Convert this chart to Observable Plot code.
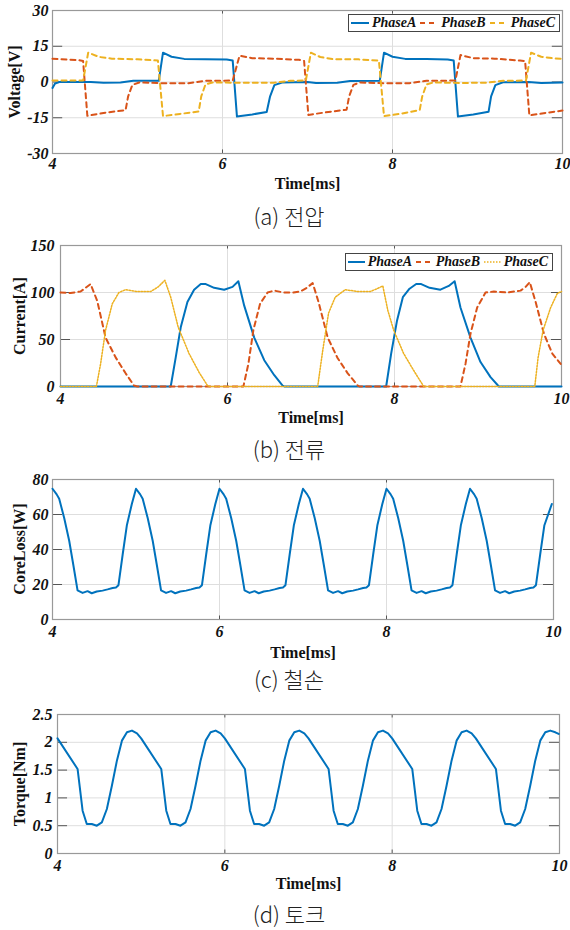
<!DOCTYPE html>
<html>
<head>
<meta charset="utf-8">
<script src="https://cdn.jsdelivr.net/npm/d3@7"></script>
<script src="https://cdn.jsdelivr.net/npm/@observablehq/plot@0.6"></script>
<style>
  html, body { margin: 0; padding: 0; background: #fff; }
  #root { position: relative; width: 570px; height: 930px; overflow: hidden; background: #fff; }
  .panel { position: absolute; left: 0; }
  .cap { position: absolute; left: 0; width: 578px; text-align: center; font-family: "Noto Sans CJK KR", sans-serif; font-weight: 300; font-size: 22px; line-height: 26px; color: #222; }
  .ytitle { position: absolute; font-family: "Liberation Serif", serif; font-weight: bold; font-size: 16px; line-height: 18px; color: #111; white-space: nowrap; transform: translate(-50%, -50%) rotate(-90deg); }
  .legend { position: absolute; background: #fff; border: 1px solid #444; display: flex; align-items: center; font-family: "Liberation Serif", serif; font-weight: bold; font-style: italic; font-size: 14px; color: #111; box-sizing: border-box; padding-left: 2px; white-space: nowrap; }
  .legend svg { display: block; margin-right: 3px; }
  .legend span { margin-right: 4px; }
</style>
</head>
<body>
<div id="root"></div>
<script>
// ---------- shared axis data ----------
const xTicks = [4, 6, 8, 10];
const seriesNames = ["PhaseA", "PhaseB", "PhaseC"];
const colors = ["#0072BD", "#D95319", "#EDB120"];

// ---------- (a) Voltage ----------
const voltTicks = [-30, -15, 0, 15, 30];
const vA_t = [4.00,4.03,4.08,4.45,4.60,4.80,4.95,5.25,5.30,5.40,5.55,5.80,6.05,6.12,6.17,6.35,6.52,6.56,6.61,6.70,7.00,7.10,7.35,7.50,7.85,7.90,8.00,8.15,8.40,8.65,8.72,8.77,8.95,9.13,9.16,9.21,9.30,9.60,9.75,10.00];
const vA_v = [-2.5,-0.6,0,0,-0.3,-0.2,0.5,0.5,12.3,10.6,9.7,9.5,9.4,9.0,-14.5,-13.6,-12.6,-6,-1.3,-0.2,0,-0.4,-0.3,0.4,0.5,12.3,10.6,9.7,9.6,9.4,9.0,-14.5,-13.6,-12.5,-6,-1.3,-0.1,0,-0.4,-0.2];
const vB_t = [4.00,4.30,4.36,4.41,4.60,4.86,4.89,4.94,5.02,5.30,5.60,5.80,6.12,6.20,6.35,6.60,6.90,6.96,7.01,7.20,7.46,7.49,7.54,7.62,7.90,8.20,8.40,8.74,8.80,8.95,9.20,9.50,9.56,9.61,9.80,10.00];
const vB_v = [9.8,9.2,8.8,-14.2,-13.0,-11.8,-6,-1.2,-0.2,-0.5,-0.5,0.5,0.6,11.0,10.0,9.8,9.3,8.8,-13.8,-12.8,-11.6,-6,-1.2,-0.2,-0.5,-0.5,0.5,0.6,11.3,10.0,9.8,9.0,8.8,-14.0,-13.0,-12.0];
const vC_t = [4.00,4.36,4.42,4.55,4.70,5.00,5.24,5.30,5.50,5.72,5.75,5.80,5.88,6.20,6.60,6.80,6.98,7.04,7.15,7.30,7.60,7.84,7.90,8.10,8.32,8.35,8.40,8.48,8.80,9.10,9.30,9.57,9.63,9.75,9.90,10.00];
const vC_v = [0.6,0.6,12.3,10.5,9.8,9.5,9.0,-14.3,-13.4,-12.4,-6,-1.0,-0.2,-0.3,-0.3,0.5,0.6,12.3,10.5,9.6,9.5,9.0,-14.3,-13.3,-11.8,-6,-1.0,-0.2,-0.4,-0.3,0.5,0.6,12.3,10.6,9.9,9.7];

// ---------- (b) Current ----------
const currTicks = [0, 50, 100, 150];
const iA_t = [4.00,5.32,5.38,5.44,5.52,5.60,5.68,5.74,5.84,5.96,6.06,6.13,6.20,6.32,6.44,6.56,6.66,6.68,7.90,7.96,8.03,8.10,8.18,8.26,8.32,8.42,8.55,8.65,8.72,8.79,8.91,9.03,9.15,9.25,10.00];
const iA_v = [0,0,31,63,90,103,109,109,105,103,106,112,86,52,28,12,1,0,0,35,70,95,104,109,109,105,103,107,112,84,52,26,10,0,0];
const iB_t = [4.00,4.12,4.24,4.30,4.36,4.44,4.54,4.66,4.78,4.88,4.92,6.19,6.25,6.31,6.39,6.48,6.56,6.67,6.79,6.87,6.95,7.02,7.09,7.20,7.32,7.44,7.56,7.58,8.79,8.85,8.91,8.99,9.09,9.19,9.35,9.51,9.57,9.62,9.69,9.79,9.89,9.99];
const iB_v = [100,99.5,101,105,109,91,52,31,14,1,0,0,24,60,88,100,102,100,100,101,105,110,90,52,30,14,1,0,0,24,56,84,100,101,100,102,106,111,90,56,35,24];
const iC_t = [4.00,4.43,4.48,4.54,4.62,4.70,4.78,4.92,5.08,5.17,5.25,5.32,5.41,5.54,5.66,5.76,5.78,7.08,7.14,7.21,7.29,7.41,7.56,7.71,7.79,7.86,7.92,7.99,8.11,8.23,8.35,9.68,9.72,9.78,9.87,9.95,10.00];
const iC_v = [0,0,24,60,88,100,103,101,101,106,113,95,63,35,15,1,0,0,38,78,95,103,101,101,104,107,81,60,35,17,0,0,31,60,84,99,101];

// ---------- (c) Core loss ----------
const coreTicks = [0, 20, 40, 60, 80];
const core_t = [4.00,4.05,4.08,4.14,4.20,4.25,4.30,4.36,4.42,4.47,4.53,4.60,4.66,4.72,4.76,4.79,4.84,4.89,4.95,
                5.00,5.05,5.08,5.14,5.20,5.25,5.30,5.36,5.42,5.47,5.53,5.60,5.66,5.72,5.76,5.79,5.84,5.89,5.95,
                6.00,6.05,6.08,6.14,6.20,6.25,6.30,6.36,6.42,6.47,6.53,6.60,6.66,6.72,6.76,6.79,6.84,6.89,6.95,
                7.00,7.05,7.08,7.14,7.20,7.25,7.30,7.36,7.42,7.47,7.53,7.60,7.66,7.72,7.76,7.79,7.84,7.89,7.95,
                8.00,8.05,8.08,8.14,8.20,8.25,8.30,8.36,8.42,8.47,8.53,8.60,8.66,8.72,8.76,8.79,8.84,8.89,8.95,
                9.00,9.05,9.08,9.14,9.20,9.25,9.30,9.36,9.42,9.47,9.53,9.60,9.66,9.72,9.76,9.79,9.84,9.89,9.98];
const core_v = [74.7,71.5,69,58,45,31,16.6,15.2,16.2,15.0,16.0,16.5,17.2,18.0,18.3,19.6,37,53.7,66,
                74.7,71.5,69,58,45,31,16.6,15.2,16.2,15.0,16.0,16.5,17.2,18.0,18.3,19.6,37,53.7,66,
                74.7,71.5,69,58,45,31,16.6,15.2,16.2,15.0,16.0,16.5,17.2,18.0,18.3,19.6,37,53.7,66,
                74.7,71.5,69,58,45,31,16.6,15.2,16.2,15.0,16.0,16.5,17.2,18.0,18.3,19.6,37,53.7,66,
                74.7,71.5,69,58,45,31,16.6,15.2,16.2,15.0,16.0,16.5,17.2,18.0,18.3,19.6,37,53.7,66,
                74.7,71.5,69,58,45,31,16.6,15.2,16.2,15.0,16.0,16.5,17.2,18.0,18.3,19.6,37,53.7,66];

// ---------- (d) Torque ----------
const torqTicks = [0, 0.5, 1, 1.5, 2, 2.5];
const torq_t = [4.00,4.24,4.30,4.35,4.41,4.47,4.53,4.59,4.65,4.71,4.77,4.83,4.89,4.95,
                5.00,5.24,5.30,5.35,5.41,5.47,5.53,5.59,5.65,5.71,5.77,5.83,5.89,5.95,
                6.00,6.24,6.30,6.35,6.41,6.47,6.53,6.59,6.65,6.71,6.77,6.83,6.89,6.95,
                7.00,7.24,7.30,7.35,7.41,7.47,7.53,7.59,7.65,7.71,7.77,7.83,7.89,7.95,
                8.00,8.24,8.30,8.35,8.41,8.47,8.53,8.59,8.65,8.71,8.77,8.83,8.89,8.95,
                9.00,9.24,9.30,9.35,9.41,9.47,9.53,9.59,9.65,9.71,9.77,9.83,9.89,9.95,9.99];
const torq_v = [2.07,1.52,0.77,0.53,0.53,0.50,0.56,0.80,1.22,1.67,2.03,2.18,2.21,2.16,
                2.07,1.52,0.77,0.53,0.53,0.50,0.56,0.80,1.22,1.67,2.03,2.18,2.21,2.16,
                2.07,1.52,0.77,0.53,0.53,0.50,0.56,0.80,1.22,1.67,2.03,2.18,2.21,2.16,
                2.07,1.52,0.77,0.53,0.53,0.50,0.56,0.80,1.22,1.67,2.03,2.18,2.21,2.16,
                2.07,1.52,0.77,0.53,0.53,0.50,0.56,0.80,1.22,1.67,2.03,2.18,2.21,2.16,
                2.07,1.52,0.77,0.53,0.53,0.50,0.56,0.80,1.22,1.67,2.03,2.18,2.21,2.18,2.15];

function rows(ts, vs, s) { return ts.map((t, i) => ({t, v: vs[i], s})); }

const root = document.getElementById("root");

function panel(cfg) {
  const [y0, y1] = cfg.yDomain;
  const dy = (y1 - y0) * 0.025;
  const dx = 6 * 0.02;
  const tickStroke = "#555";
  const marks = [
    Plot.gridX(xTicks.slice(1, -1), {stroke: "#dedede", strokeOpacity: 1, strokeWidth: 1}),
    Plot.gridY(cfg.yTicks.slice(1, -1), {stroke: "#dedede", strokeOpacity: 1, strokeWidth: 1}),
    // inward ticks
    Plot.ruleX(xTicks, {y1: y0, y2: y0 + dy, stroke: tickStroke, strokeWidth: 1}),
    Plot.ruleX(xTicks, {y1: y1, y2: y1 - dy, stroke: tickStroke, strokeWidth: 1}),
    Plot.ruleY(cfg.yTicks, {x1: 4, x2: 4 + dx, stroke: tickStroke, strokeWidth: 1}),
    Plot.ruleY(cfg.yTicks, {x1: 10, x2: 10 - dx, stroke: tickStroke, strokeWidth: 1}),
    Plot.frame({stroke: "#999", strokeWidth: 1.2}),
    ...cfg.lines.map(L => Plot.line(L.data, {x: "t", y: "v", stroke: L.color, strokeWidth: L.width, strokeDasharray: L.dash, strokeLinejoin: "round"})),
    Plot.axisX(xTicks, {tickSize: 0, tickPadding: cfg.xPad, fontSize: 16, fontWeight: "bold", fontStyle: "italic", label: null, tickFormat: d => String(d)}),
    Plot.axisY(cfg.yTicks, {tickSize: 0, tickPadding: cfg.yPad, fontSize: 16, fontWeight: "bold", fontStyle: "italic", label: null, tickFormat: d => String(d)}),
    Plot.text(["Time[ms]"], {text: d => d, frameAnchor: "bottom", textAnchor: "middle", lineAnchor: "middle", dy: cfg.tDy, fontSize: 16, fontWeight: "bold", fill: "#111"})
  ];
  const fh = cfg.frameBottom - cfg.frameTop;
  const p = Plot.plot({
    width: 570,
    height: 10 + fh + 45,
    marginTop: 10,
    marginBottom: 45,
    marginLeft: cfg.left,
    marginRight: 570 - cfg.right,
    x: {domain: [4, 10], axis: null},
    y: {domain: cfg.yDomain, axis: null},
    style: {fontFamily: "Liberation Serif, serif", color: "#111", background: "transparent", overflow: "visible"},
    marks
  });
  const d = document.createElement("div");
  d.className = "panel";
  d.style.top = (cfg.frameTop - 10) + "px";
  d.appendChild(p);
  root.appendChild(d);

  // rotated y-axis title
  const yt = document.createElement("div");
  yt.className = "ytitle";
  yt.style.left = (cfg.left + cfg.yDx) + "px";
  yt.style.top = ((cfg.frameTop + cfg.frameBottom) / 2) + "px";
  yt.textContent = cfg.yLabel;
  root.appendChild(yt);

  const c = document.createElement("div");
  c.className = "cap";
  c.style.top = (cfg.capY - 13) + "px";
  c.textContent = cfg.caption;
  root.appendChild(c);
}

function legend(box, styles) {
  const lg = document.createElement("div");
  lg.className = "legend";
  Object.assign(lg.style, {left: box.x + "px", top: box.y + "px", width: box.w + "px", height: box.h + "px"});
  seriesNames.forEach((name, i) => {
    const st = styles[i];
    const sw = document.createElementNS("http://www.w3.org/2000/svg", "svg");
    sw.setAttribute("width", 19); sw.setAttribute("height", 10);
    const ln = document.createElementNS("http://www.w3.org/2000/svg", "line");
    ln.setAttribute("x1", 0); ln.setAttribute("x2", 19); ln.setAttribute("y1", 5); ln.setAttribute("y2", 5);
    ln.setAttribute("stroke", colors[i]); ln.setAttribute("stroke-width", st.width);
    if (st.dash) ln.setAttribute("stroke-dasharray", st.dash);
    sw.appendChild(ln);
    lg.appendChild(sw);
    const s = document.createElement("span");
    s.textContent = name;
    lg.appendChild(s);
  });
  root.appendChild(lg);
}

const dashStyle = "5,4";

panel({
  frameTop: 10, frameBottom: 153, left: 52, right: 562,
  yDomain: [-30, 30], yTicks: voltTicks, xPad: 4, yPad: 4, tDy: 30, yDx: -37,
  yLabel: "Voltage[V]", caption: "(a) 전압", capY: 215,
  lines: [
    {data: rows(vA_t, vA_v, "A"), color: colors[0], width: 2},
    {data: rows(vB_t, vB_v, "B"), color: colors[1], width: 2, dash: dashStyle},
    {data: rows(vC_t, vC_v, "C"), color: colors[2], width: 2, dash: dashStyle}
  ]
});
legend({x: 348, y: 14, w: 212, h: 18}, [{width: 2}, {width: 2, dash: "5,4"}, {width: 2, dash: "5,4"}]);

panel({
  frameTop: 245, frameBottom: 386, left: 60, right: 561,
  yDomain: [0, 150], yTicks: currTicks, xPad: 6, yPad: 6, tDy: 31, yDx: -40,
  yLabel: "Current[A]", caption: "(b) 전류", capY: 448,
  lines: [
    {data: rows(iA_t, iA_v, "A"), color: colors[0], width: 2},
    {data: rows(iB_t, iB_v, "B"), color: colors[1], width: 2, dash: dashStyle},
    {data: rows(iC_t, iC_v, "C"), color: colors[2], width: 1.5, dash: "1.5,1.5"}
  ]
});
legend({x: 345, y: 253, w: 208, h: 18}, [{width: 2}, {width: 2, dash: "5,4"}, {width: 1.5, dash: "1.5,1.5"}]);

panel({
  frameTop: 479, frameBottom: 619, left: 52, right: 553,
  yDomain: [0, 80], yTicks: coreTicks, xPad: 6, yPad: 4, tDy: 33, yDx: -32,
  yLabel: "CoreLoss[W]", caption: "(c) 철손", capY: 678,
  lines: [{data: rows(core_t, core_v, "core"), color: colors[0], width: 2}]
});

panel({
  frameTop: 714, frameBottom: 853, left: 57, right: 559,
  yDomain: [0, 2.5], yTicks: torqTicks, xPad: 6, yPad: 5, tDy: 30, yDx: -37,
  yLabel: "Torque[Nm]", caption: "(d) 토크", capY: 913,
  lines: [{data: rows(torq_t, torq_v, "torque"), color: colors[0], width: 2}]
});
</script>
</body>
</html>
